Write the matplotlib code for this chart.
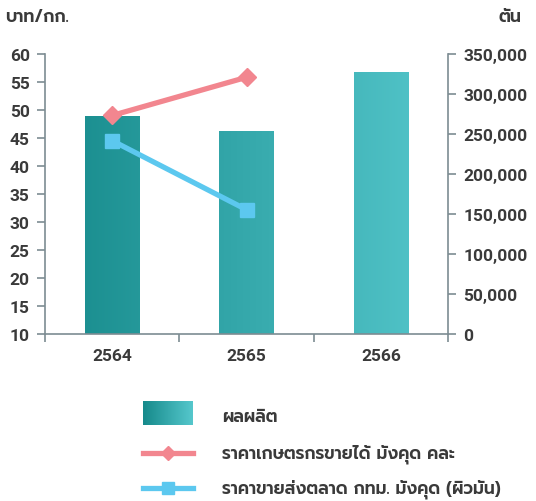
import matplotlib
matplotlib.use("Agg")
import matplotlib.pyplot as plt
import numpy as np
from matplotlib.colors import LinearSegmentedColormap
from matplotlib.ticker import FuncFormatter

years = ["2564", "2565", "2566"]
production = [270700, 252700, 326300]          # ตัน
farm_price = [49.0, 55.8]                        # บาท/กก.
bkk_price = [44.5, 32.2]                         # บาท/กก.

label_prod = "ผลผลิต"
label_farm = "ราคาเกษตรกรขายได้ มังคุด คละ"
label_bkk = "ราคาขายส่งตลาด กทม. มังคุด (ผิวมัน)"

left_ticks = list(range(10, 61, 5))
right_ticks = list(range(0, 350001, 50000))

# Latin digits from Roboto, Thai glyphs fall through to Prompt
plt.rcParams["font.family"] = ["Roboto", "Prompt", "DejaVu Sans"]
plt.rcParams["font.weight"] = "bold"
thai_font = ["Prompt", "DejaVu Sans"]

text_col = "#3a3a3a"
spine_col = "#7d8c92"
red = "#f2868f"
blue = "#5cc8ef"
teal = LinearSegmentedColormap.from_list("teal", ["#168a8b", "#55c7cc"])

fig = plt.figure(figsize=(5.36, 5.02), dpi=100)
ax = fig.add_axes([0.084, 0.332, 0.752, 0.559])
ax2 = ax.twinx()

x = np.arange(len(years))
ax.set_xlim(-0.5, len(years) - 0.5)
ax.set_ylim(10, 60)

# bars on the right (ตัน) axis, horizontal gradient across the plot
bw = 0.405
x0, x1 = ax.get_xlim()
for xi, v in zip(x, production):
    l, r = xi - bw / 2, xi + bw / 2
    g = np.linspace((l - x0) / (x1 - x0), (r - x0) / (x1 - x0), 64).reshape(1, -1)
    ax2.imshow(g, cmap=teal, vmin=0, vmax=1, aspect="auto",
               extent=(l, r, 0, v), zorder=1, interpolation="bilinear")
ax2.set_xlim(x0, x1)
ax2.set_ylim(0, 350000)

# price lines on the left axis, kept above the bars
ax.set_zorder(ax2.get_zorder() + 1)
ax.patch.set_visible(False)
ax.plot(x[:2], farm_price, color=red, lw=3.8, marker="D", ms=9,
        solid_capstyle="butt", zorder=5)
ax.plot(x[:2], bkk_price, color=blue, lw=3.8, marker="s", ms=10,
        solid_capstyle="butt", zorder=5)

for a in (ax, ax2):
    for s in a.spines.values():
        s.set_visible(False)

ax.spines["left"].set_visible(True)
ax.spines["bottom"].set_visible(True)
ax2.spines["right"].set_visible(True)
for s in (ax.spines["left"], ax.spines["bottom"], ax2.spines["right"]):
    s.set_color(spine_col)
    s.set_linewidth(1.2)

ax.set_yticks(left_ticks)
ax.set_xticks(np.arange(-0.5, len(years), 1.0))
ax.set_xticklabels([])
ax.set_xticks(x, minor=True)
ax.set_xticklabels(years, minor=True)
ax.tick_params(axis="x", which="major", length=6, color=spine_col, width=1.2)
ax.tick_params(axis="x", which="minor", length=0, pad=10, labelsize=12.5, labelcolor=text_col)
ax.tick_params(axis="y", length=6, color=spine_col, width=1.2, labelsize=12.5,
               labelcolor=text_col, pad=5)

ax2.set_yticks(right_ticks)
ax2.yaxis.set_major_formatter(FuncFormatter(lambda v, p: f"{int(v):,}"))
ax2.tick_params(axis="y", length=6, color=spine_col, width=1.2, labelsize=12.5,
                labelcolor=text_col, pad=5)

fig.text(0.01, 0.965, "บาท/กก.", fontsize=12.5, color=text_col, ha="left",
         va="center", family=thai_font, fontweight="semibold")
fig.text(0.951, 0.965, "ตัน", fontsize=12.5, color=text_col, ha="center",
         va="center", family=thai_font, fontweight="semibold")

# legend, laid out in pixel units
lax = fig.add_axes([0, 0, 1, 1])
lax.axis("off")
lax.imshow(np.linspace(0, 1, 64).reshape(1, -1), cmap=teal, aspect="auto",
           extent=(143, 193, 426, 402), interpolation="bilinear")
lax.plot([143, 193], [454, 454], color=red, lw=3.8)
lax.plot([168], [454], color=red, marker="D", ms=7)
lax.plot([143, 193], [489, 489], color=blue, lw=3.8)
lax.plot([168], [489], color=blue, marker="s", ms=8)
lax.set_xlim(0, 536)
lax.set_ylim(502, 0)
for yy, t in zip([418, 454, 489], [label_prod, label_farm, label_bkk]):
    lax.text(222, yy, t, fontsize=12.3, color=text_col, ha="left", va="center",
             family=thai_font, fontweight="semibold")

fig.savefig("out.png", dpi=100)
